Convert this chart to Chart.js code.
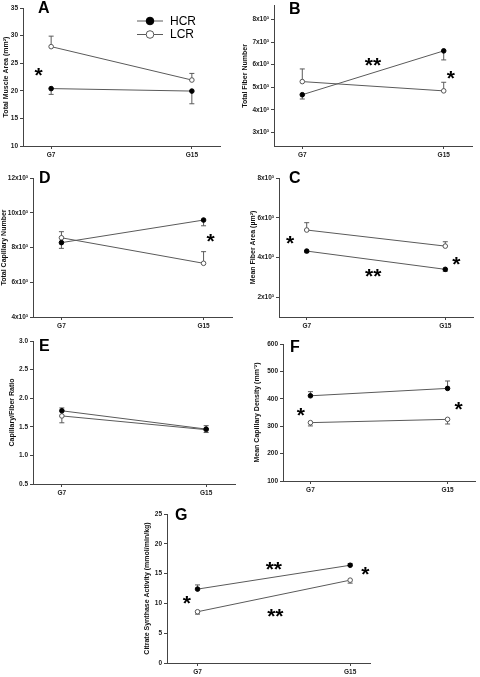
<!DOCTYPE html>
<html>
<head>
<meta charset="utf-8">
<script src="https://cdn.jsdelivr.net/npm/chart.js@4.4.1/dist/chart.umd.min.js"></script>
<style>
  body { margin: 0; background: #fff; }
  canvas { position: absolute; }
</style>
</head>
<body>
<script>
var groups = ["G7", "G15"];

// A: total muscle area (mm2)
var areaHcr = [20.4, 19.95];
var areaHcrSem = [1.05, 2.3];
var areaLcr = [28.0, 21.95];
var areaLcrSem = [1.9, 1.2];
var areaTicks = [10, 15, 20, 25, 30, 35];

// B: total fiber number (x10^3)
var fiberNumHcr = [4.67, 6.61];
var fiberNumHcrSem = [0.19, 0.4];
var fiberNumLcr = [5.25, 4.84];
var fiberNumLcrSem = [0.56, 0.38];
var fiberNumTicks = [3, 4, 5, 6, 7, 8];

// D: total capillary number (x10^3)
var capNumHcr = [8.28, 9.58];
var capNumHcrSem = [0.33, 0.33];
var capNumLcr = [8.56, 7.09];
var capNumLcrSem = [0.35, 0.67];
var capNumTicks = [4, 6, 8, 10, 12];

// C: mean fiber area (x10^3 um2)
var fiberAreaHcr = [4.32, 3.4];
var fiberAreaHcrSem = [0.08, 0.1];
var fiberAreaLcr = [5.38, 4.57];
var fiberAreaLcrSem = [0.37, 0.22];
var fiberAreaTicks = [2, 4, 6, 8];

// E: capillary/fiber ratio
var ratioHcr = [1.78, 1.46];
var ratioHcrSem = [0.05, 0.06];
var ratioLcr = [1.69, 1.45];
var ratioLcrSem = [0.12, 0.05];
var ratioTicks = [0.5, 1.0, 1.5, 2.0, 2.5, 3.0];

// F: mean capillary density (mm-2)
var densHcr = [411, 438];
var densHcrSem = [15, 27];
var densLcr = [313, 325];
var densLcrSem = [12, 17];
var densTicks = [100, 200, 300, 400, 500, 600];

// G: citrate synthase activity
var csHcr = [12.4, 16.4];
var csHcrSem = [0.7, 0.3];
var csLcr = [8.6, 13.9];
var csLcrSem = [0.4, 0.5];
var csTicks = [0, 5, 10, 15, 20, 25];

var LINE = "#5a5a5a";
var AXIS = "#444";
var FONT = '"Liberation Sans", Arial, sans-serif';

function thousands(v) { return v + "x10\u00b3"; }

// error bars, stars, panel letter, legend
var extras = {
  id: "extras",
  beforeDatasetsDraw: function (chart) {
    var ctx = chart.ctx, ys = chart.scales.y;
    ctx.save();
    ctx.strokeStyle = LINE;
    ctx.lineWidth = 1;
    chart.data.datasets.forEach(function (ds, i) {
      var meta = chart.getDatasetMeta(i);
      ds.data.forEach(function (p, j) {
        var x = meta.data[j].x;
        var y0 = ys.getPixelForValue(p.y);
        var y1 = ys.getPixelForValue(p.y + ds.errDir * ds.sem[j]);
        ctx.beginPath();
        ctx.moveTo(x, y0);
        ctx.lineTo(x, y1);
        ctx.moveTo(x - 2.5, y1);
        ctx.lineTo(x + 2.5, y1);
        ctx.stroke();
      });
    });
    ctx.restore();
  },
  afterDraw: function (chart) {
    var o = chart.options.plugins.extras;
    var ctx = chart.ctx, xs = chart.scales.x, ys = chart.scales.y, a = chart.chartArea;
    ctx.save();
    ctx.fillStyle = "#000";
    ctx.textAlign = "left";
    ctx.textBaseline = "alphabetic";
    ctx.font = "bold 16px " + FONT;
    ctx.fillText(o.letter, a.left + o.letterAt[0], a.top + o.letterAt[1]);

    ctx.textAlign = "center";
    (o.stars || []).forEach(function (s) {
      var size = 21;
      ctx.font = "bold " + size + "px " + FONT;
      ctx.fillText(s[0], xs.getPixelForValue(s[1]), ys.getPixelForValue(s[2]) + 0.46 * size);
    });

    if (o.legend) {
      var lx = o.legend[0], ly = o.legend[1];
      chart.data.datasets.forEach(function (ds, i) {
        var y = ly + i * 13.5;
        ctx.strokeStyle = LINE;
        ctx.lineWidth = 1;
        ctx.beginPath();
        ctx.moveTo(lx, y);
        ctx.lineTo(lx + 26, y);
        ctx.stroke();
        ctx.beginPath();
        ctx.arc(lx + 13, y, 3.8, 0, Math.PI * 2);
        ctx.fillStyle = ds.pointBackgroundColor;
        ctx.fill();
        ctx.strokeStyle = ds.pointBorderColor;
        ctx.stroke();
        ctx.fillStyle = "#000";
        ctx.textAlign = "left";
        ctx.textBaseline = "middle";
        ctx.font = "12px " + FONT;
        ctx.fillText(ds.label, lx + 33, y + 0.5);
      });
    }
    ctx.restore();
  }
};

function makePanel(p) {
  var box = p.box, area = p.area;
  var canvas = document.createElement("canvas");
  canvas.width = box[2];
  canvas.height = box[3];
  canvas.style.left = box[0] + "px";
  canvas.style.top = box[1] + "px";
  document.body.appendChild(canvas);

  var padLeft = Math.max(0, Math.round(p.titleX - 4.2 - box[0]));
  var wy = area[0] - box[0] - padLeft;
  var hx = 14;

  function pts(vals) { return vals.map(function (v, i) { return { x: i, y: v }; }); }

  new Chart(canvas, {
    type: "line",
    data: {
      datasets: [
        { label: "HCR", data: pts(p.hcr), sem: p.hcrSem, errDir: p.hcrDir,
          borderColor: LINE, borderWidth: 1, pointRadius: 2.3,
          pointBackgroundColor: "#000", pointBorderColor: "#000", pointBorderWidth: 1 },
        { label: "LCR", data: pts(p.lcr), sem: p.lcrSem, errDir: -p.hcrDir,
          borderColor: LINE, borderWidth: 1, pointRadius: 2.3,
          pointBackgroundColor: "#fff", pointBorderColor: "#555", pointBorderWidth: 1 }
      ]
    },
    options: {
      responsive: false,
      animation: false,
      layout: {
        padding: {
          left: padLeft,
          top: area[2] - box[1],
          right: box[0] + box[2] - area[1],
          bottom: box[1] + box[3] - area[3] - hx
        }
      },
      plugins: {
        legend: { display: false },
        tooltip: { enabled: false },
        extras: { letter: p.letter, letterAt: p.letterAt, stars: p.stars, legend: p.legend }
      },
      scales: {
        x: {
          type: "linear",
          min: -0.2,
          max: p.xMax || 1.2,
          afterBuildTicks: function (s) { s.ticks = [{ value: 0 }, { value: 1 }]; },
          afterFit: function (s) { s.height = hx; },
          ticks: {
            callback: function (v) { return groups[v]; },
            font: { family: FONT, size: 6.5, weight: "bold" },
            color: "#222",
            padding: 2,
            maxRotation: 0
          },
          grid: { drawOnChartArea: false, drawTicks: true, tickLength: 3, color: AXIS },
          border: { color: AXIS, width: 1 }
        },
        y: {
          min: p.yMin,
          max: p.yMax,
          afterBuildTicks: function (s) { s.ticks = p.ticks.map(function (v) { return { value: v }; }); },
          afterFit: function (s) { s.width = wy; },
          ticks: {
            callback: p.fmt,
            font: { family: FONT, size: 6.5, weight: "bold" },
            color: "#222",
            padding: 2
          },
          grid: { drawOnChartArea: false, drawTicks: true, tickLength: 3, color: AXIS },
          border: { color: AXIS, width: 1 },
          title: {
            display: true,
            text: p.title,
            font: { family: FONT, size: 7, weight: "bold" },
            color: "#111",
            padding: { top: 0, bottom: 0 }
          }
        }
      }
    },
    plugins: [extras]
  });
}

function plain(v) { return v; }

makePanel({
  letter: "A", box: [0, 0, 240, 170], area: [23, 220, 8, 146], titleX: 6,
  letterAt: [15, 5], legend: [137, 21],
  hcr: areaHcr, hcrSem: areaHcrSem, lcr: areaLcr, lcrSem: areaLcrSem, hcrDir: -1,
  yMin: 10, yMax: 35, ticks: areaTicks, fmt: plain,
  title: "Total Muscle Area (mm\u00b2)",
  stars: [["*", -0.09, 23.4]]
});

makePanel({
  letter: "B", box: [240, 0, 240, 170], area: [274, 472, 5, 146], titleX: 245,
  letterAt: [15, 8],
  hcr: fiberNumHcr, hcrSem: fiberNumHcrSem, lcr: fiberNumLcr, lcrSem: fiberNumLcrSem, hcrDir: -1,
  yMin: 2.4, yMax: 8.6, ticks: fiberNumTicks, fmt: thousands,
  title: "Total Fiber Number",
  stars: [["**", 0.5, 6.1], ["*", 1.05, 5.52]]
});

makePanel({
  letter: "D", box: [0, 165, 240, 175], area: [33, 232, 178, 317], titleX: 3.5,
  letterAt: [6, 5],
  hcr: capNumHcr, hcrSem: capNumHcrSem, lcr: capNumLcr, lcrSem: capNumLcrSem, hcrDir: -1,
  yMin: 4, yMax: 12, ticks: capNumTicks, fmt: thousands,
  title: "Total Capillary Number",
  stars: [["*", 1.05, 8.53]]
});

makePanel({
  letter: "C", box: [240, 165, 240, 175], area: [279, 473, 178, 317], titleX: 253,
  letterAt: [10, 5],
  hcr: fiberAreaHcr, hcrSem: fiberAreaHcrSem, lcr: fiberAreaLcr, lcrSem: fiberAreaLcrSem, hcrDir: -1,
  yMin: 1, yMax: 8, ticks: fiberAreaTicks, fmt: thousands,
  title: "Mean Fiber Area (\u00b5m\u00b2)",
  stars: [["*", -0.12, 4.84], ["**", 0.48, 3.2], ["*", 1.08, 3.78]]
});

makePanel({
  letter: "E", box: [0, 330, 240, 172], area: [33, 237, 341, 484], titleX: 12,
  letterAt: [6, 10],
  hcr: ratioHcr, hcrSem: ratioHcrSem, lcr: ratioLcr, lcrSem: ratioLcrSem, hcrDir: 1,
  yMin: 0.5, yMax: 3.0, ticks: ratioTicks, fmt: function (v) { return v.toFixed(1); },
  title: "Capillary/Fiber Ratio",
  stars: []
});

makePanel({
  letter: "F", box: [240, 330, 240, 172], area: [283, 478, 344, 481], titleX: 257,
  letterAt: [7, 8],
  hcr: densHcr, hcrSem: densHcrSem, lcr: densLcr, lcrSem: densLcrSem, hcrDir: 1,
  yMin: 100, yMax: 600, ticks: densTicks, fmt: plain,
  title: "Mean Capillary Density (mm\u207b\u00b2)",
  stars: [["*", -0.07, 351], ["*", 1.08, 371]]
});

makePanel({
  letter: "G", box: [140, 500, 240, 177], area: [167, 370, 514, 663], titleX: 147,
  letterAt: [8, 6], xMax: 1.13,
  hcr: csHcr, hcrSem: csHcrSem, lcr: csLcr, lcrSem: csLcrSem, hcrDir: 1,
  yMin: 0, yMax: 25, ticks: csTicks, fmt: plain,
  title: "Citrate Synthase Activity (mmol/min/kg)",
  stars: [["**", 0.5, 16.2], ["**", 0.51, 8.3], ["*", -0.07, 10.45], ["*", 1.1, 15.3]]
});
</script>
</body>
</html>
